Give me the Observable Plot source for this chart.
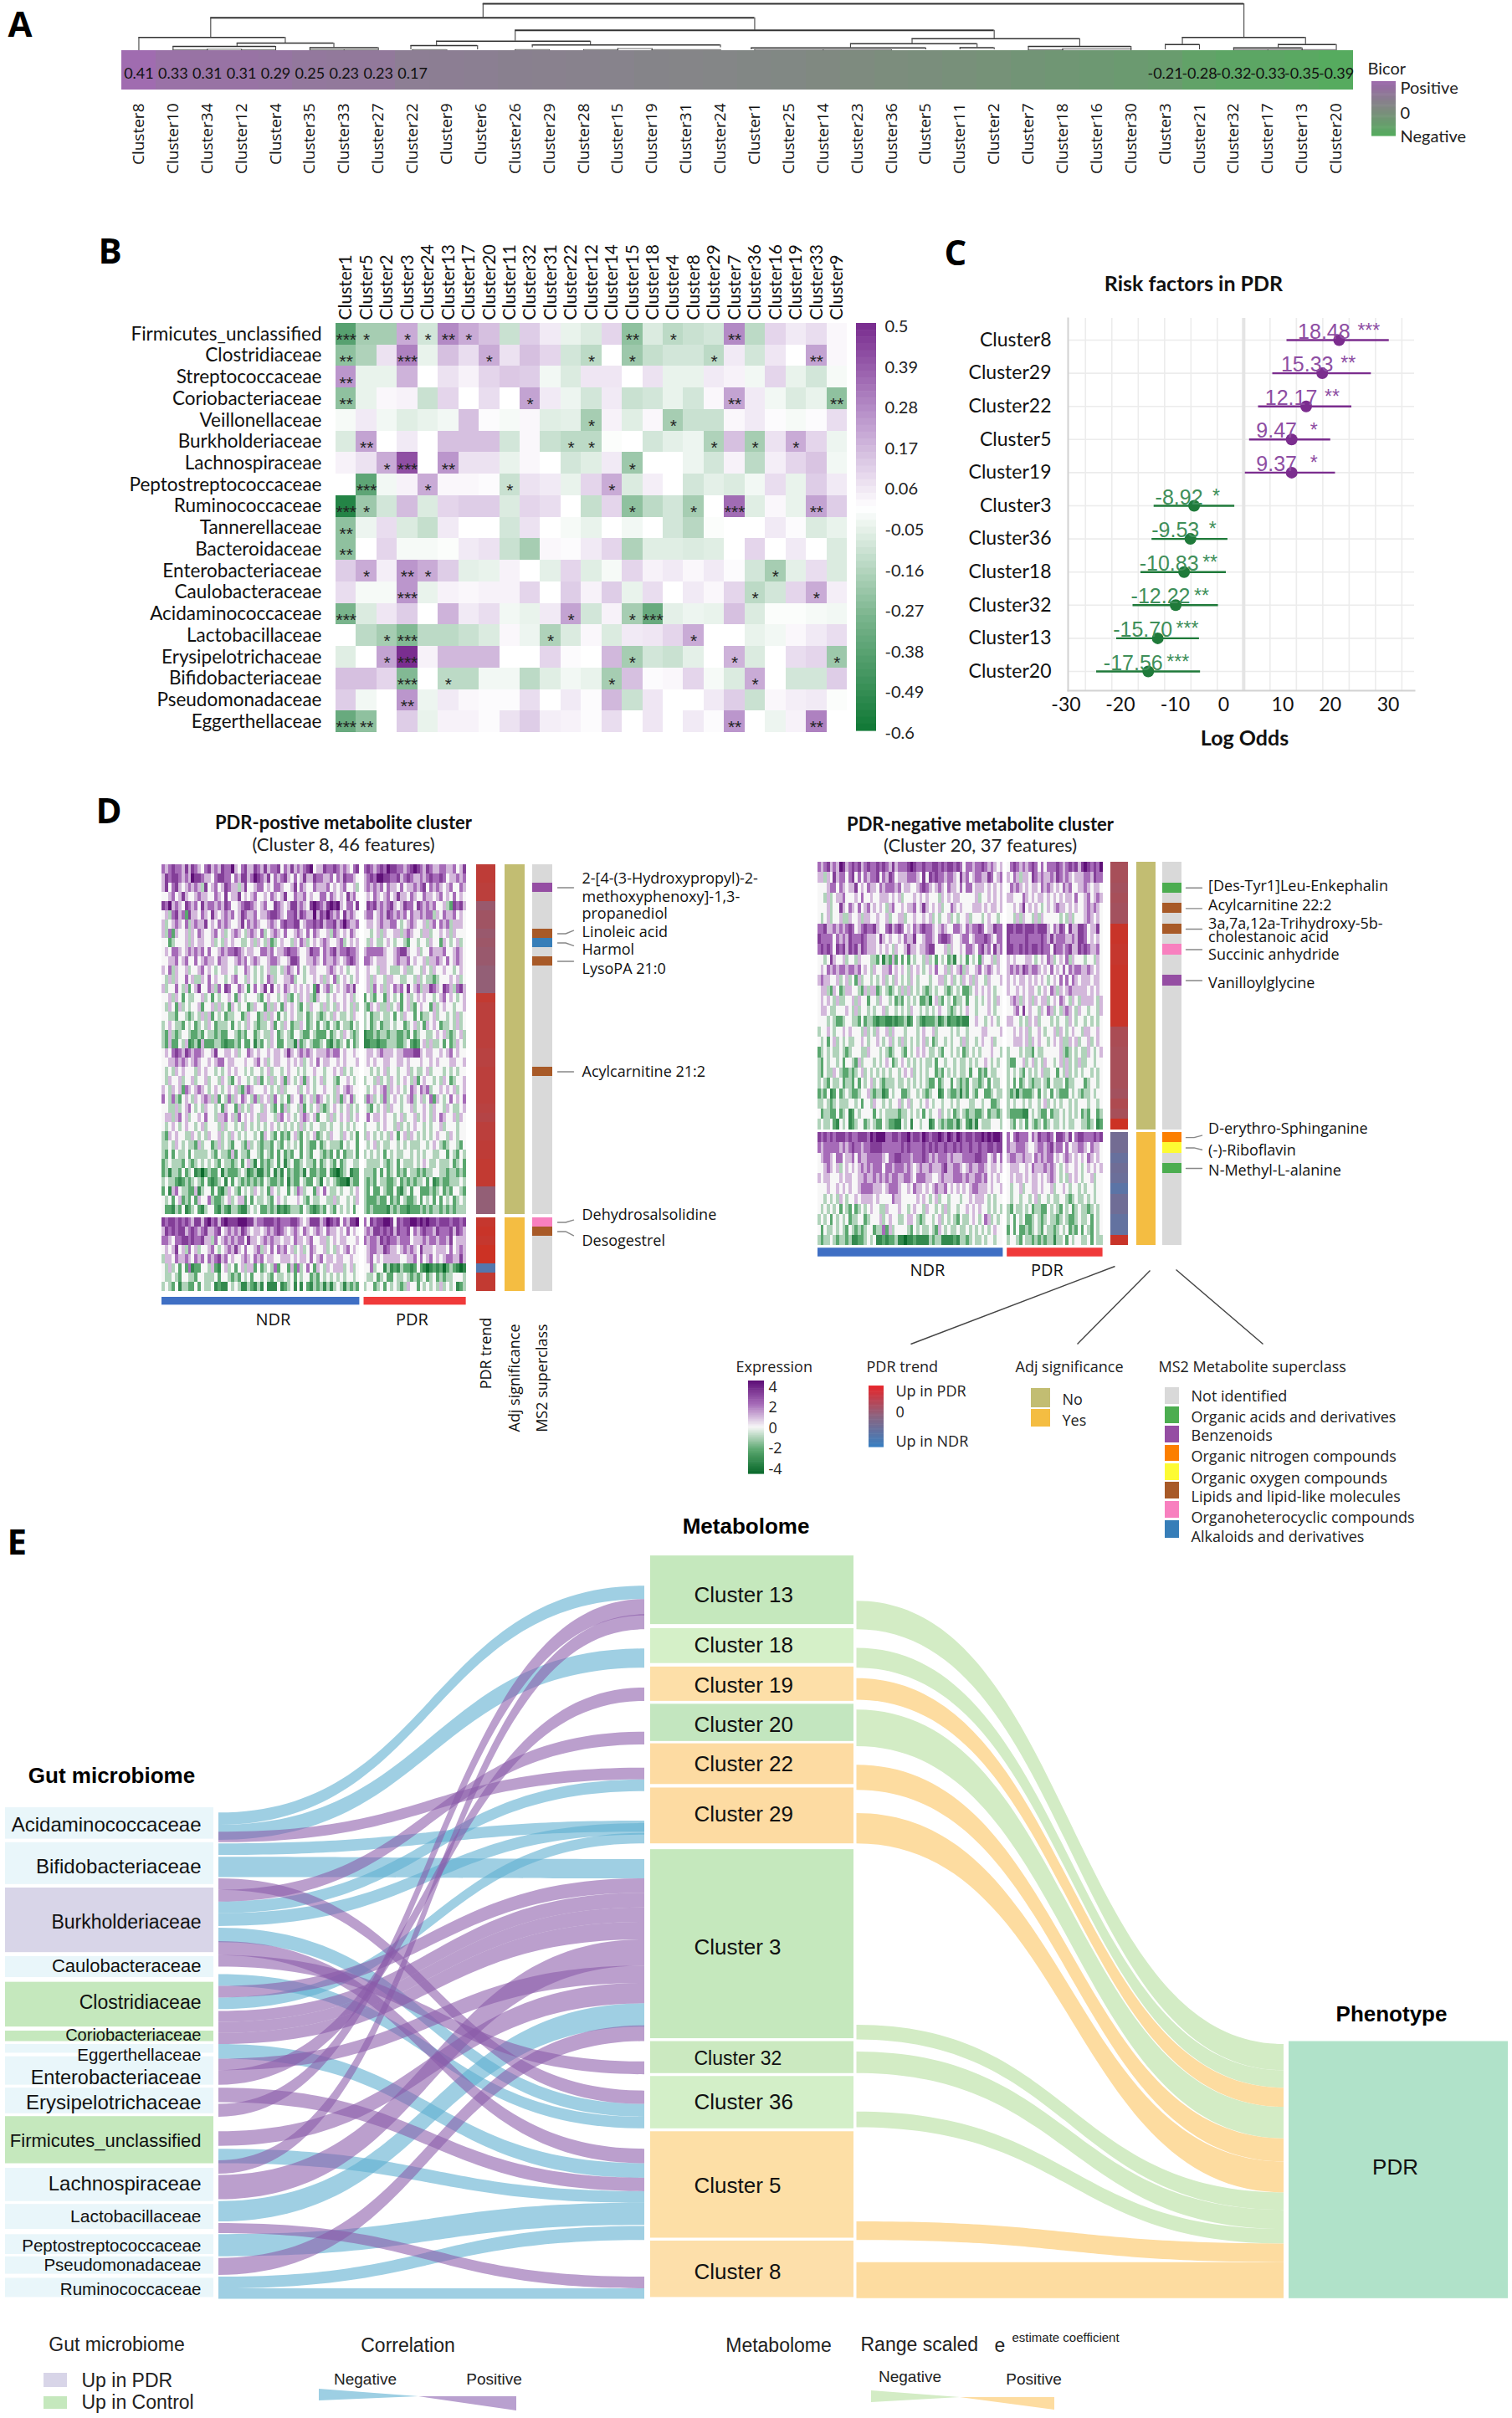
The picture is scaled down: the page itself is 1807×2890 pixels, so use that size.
<!DOCTYPE html>
<html><head><meta charset="utf-8">
<script src="https://cdn.jsdelivr.net/npm/d3@7"></script>
<script src="https://cdn.jsdelivr.net/npm/@observablehq/plot@0.6"></script>
<style>
html,body{margin:0;background:#fff}
#fig{position:relative;width:1807px;height:2890px;overflow:hidden;background:#fff}
#fig svg{position:absolute;overflow:visible;max-width:none}
</style></head><body><div id="fig"></div>
<script>
/* ---------- A: module / trait correlation ---------- */
const orderA=["Cluster8","Cluster10","Cluster34","Cluster12","Cluster4","Cluster35","Cluster33","Cluster27","Cluster22","Cluster9","Cluster6","Cluster26","Cluster29","Cluster28","Cluster15","Cluster19","Cluster31","Cluster24","Cluster1","Cluster25","Cluster14","Cluster23","Cluster36","Cluster5","Cluster11","Cluster2","Cluster7","Cluster18","Cluster16","Cluster30","Cluster3","Cluster21","Cluster32","Cluster17","Cluster13","Cluster20"];
const bicorA=[0.41,0.33,0.31,0.31,0.29,0.25,0.23,0.23,0.17,0.16,0.15,0.13,0.12,0.11,0.10,0.08,0.07,0.06,0.04,0.03,0.01,-0.01,-0.03,-0.05,-0.07,-0.09,-0.12,-0.14,-0.17,-0.19,-0.21,-0.28,-0.32,-0.33,-0.35,-0.39];
const bicorText=["0.41","0.33","0.31","0.31","0.29","0.25","0.23","0.23","0.17","","","","","","","","","","","","","","","","","","","","","","-0.21","-0.28","-0.32","-0.33","-0.35","-0.39"];
const dendroA=[[10.06,32.3,56,39.3,15.7],[2.1,18,39.3,15.7,24.3],[30.5,34.1,15.7,7.3,7.3],[0,4.28,15.7,0,9],[2.87,5.7,9,5,3.5],[1,4,5,1,1],[5,7,3.5,1,1],[11,25,24.3,11.3,14.3],[8.7,13.2,11.3,6,6.7],[7.95,9.9,6,1,1],[11.5,17,6.7,3.5,3.5],[22.6,27.5,14.3,8.3,5],[20.8,24.5,8.3,3.3,3.5],[17.9,23,3.3,1,1],[24,25,3.5,1,1],[26,29,5,1,1],[30,31,7.3,1,1],[33.3,35,7.3,3.3,1],[32,34,3.3,1,1],[1,2,1,0,0],[2,3,1.6,0,0],[3,4,1,0,0],[5,6,1,0,0],[6,7,1,0,0],[8,9,1,0,0],[11,12,1,0,0],[13,14,1,0,0],[14,15,2.4,0,0],[15,17,1,0,0],[18,20,1,0,0],[20,22,1,0,0],[26,27,1,0,0],[27,29,2,0,0],[32,33,1,0,0],[33,34,1,0,0],[34,35,1,0,0]];

/* ---------- B: heat map ---------- */
const colsB=["Cluster1","Cluster5","Cluster2","Cluster3","Cluster24","Cluster13","Cluster17","Cluster20","Cluster11","Cluster32","Cluster31","Cluster22","Cluster12","Cluster14","Cluster15","Cluster18","Cluster4","Cluster8","Cluster29","Cluster7","Cluster36","Cluster16","Cluster19","Cluster33","Cluster9"];
const rowsB=["Firmicutes_unclassified","Clostridiaceae","Streptococcaceae","Coriobacteriaceae","Veillonellaceae","Burkholderiaceae","Lachnospiraceae","Peptostreptococcaceae","Ruminococcaceae","Tannerellaceae","Bacteroidaceae","Enterobacteriaceae","Caulobacteraceae","Acidaminococcaceae","Lactobacillaceae","Erysipelotrichaceae","Bifidobacteriaceae","Pseudomonadaceae","Eggerthellaceae"];
const valsB=[
[-.4,-.2,-.2,.2,-.1,.28,.2,.15,-.12,.12,.05,-.05,-.08,.1,-.25,-.08,-.15,-.12,-.1,.28,-.15,.1,.05,.08,.02],
[-.25,-.18,.07,.3,-.05,.15,.08,.2,.07,.15,.1,-.1,-.15,0,-.22,-.13,-.1,-.1,-.15,.05,-.1,.06,0,.22,.02],
[.25,-.05,-.05,.18,0,.07,.03,.1,.13,.12,-.03,-.08,.06,.06,0,.07,-.05,-.05,.05,.03,-.03,.1,-.05,-.1,-.02],
[-.25,-.05,.02,.03,-.12,.1,0,.08,0,.22,.05,-.04,-.1,.05,-.12,-.1,-.05,-.1,.02,.22,.05,-.03,-.08,-.05,-.25],
[-.02,.05,-.03,-.07,-.05,-.03,.15,.01,-.02,.02,-.07,-.06,-.2,.03,-.07,.02,-.2,-.12,-.12,.02,.05,.01,-.02,.01,.08],
[-.08,.22,0,.05,0,.15,.15,.15,-.1,.02,-.12,-.15,-.15,-.01,0,-.1,-.06,-.04,-.18,.15,-.2,.07,.2,.1,-.04],
[.03,.07,.2,.42,0,.25,.07,.07,-.05,.02,0,-.1,-.07,.05,-.22,0,0,-.04,-.1,.03,-.15,.04,.1,.14,-.03],
[0,-.38,-.03,.03,.2,.02,.02,.01,-.12,.07,.05,-.05,.1,.2,-.08,.04,0,-.1,-.06,-.08,-.03,.08,-.05,.12,.05],
[-.55,-.22,-.1,.16,-.08,.1,.12,.12,-.08,.1,.08,0,-.13,.1,-.25,-.15,-.1,-.2,0,.35,-.07,.02,-.05,.22,.12],
[-.25,-.04,.08,-.08,-.13,.05,0,0,-.1,.07,0,-.02,-.05,0,-.03,0,-.1,-.16,-.01,0,0,.05,.01,-.08,-.05],
[-.25,0,.1,-.02,-.02,-.01,.05,.07,-.12,-.2,.02,.01,.05,.1,-.18,-.07,-.07,-.08,-.07,0,.1,0,.05,0,-.08],
[.12,.2,.04,.25,.2,.12,-.06,-.05,.03,0,-.06,.1,-.07,-.02,.1,.03,.05,.02,.05,.01,-.1,-.2,-.06,.08,-.08],
[.08,-.02,-.02,.25,-.05,.03,.02,.03,.03,.1,0,.12,.03,.12,-.05,.08,0,.05,.02,.1,-.15,-.1,.1,.2,.04],
[-.3,-.08,.06,.12,0,.18,.05,.08,-.03,-.05,.05,.22,-.1,.03,-.2,-.35,-.06,-.04,-.05,.15,-.08,-.01,-.01,-.02,-.03],
[0,-.15,-.2,-.28,-.15,-.15,-.12,-.08,.02,-.04,-.18,-.08,.02,-.08,.05,.06,.1,.2,0,0,-.05,-.03,.02,.05,.08],
[-.07,0,.22,.5,.03,.17,.17,.17,0,0,.1,.01,0,.17,-.2,-.1,-.12,-.06,0,.18,-.08,0,.08,.1,-.22],
[.15,.15,.1,-.28,0,-.15,-.15,-.03,-.03,-.15,-.07,-.03,-.05,-.2,.15,.01,.02,.1,-.02,-.08,.2,0,-.1,-.1,.12],
[.12,-.03,0,.25,-.04,.05,.02,.01,.01,.08,0,.05,.01,.17,-.12,.06,0,0,.05,.12,-.12,.02,.04,.05,-.01],
[-.35,-.25,0,.12,-.05,.03,.03,.01,.07,.12,.04,.03,.01,.08,0,.06,0,.05,.01,.25,0,-.04,.03,.3,0]];
const starsB=["3101121000000020100200000","2003000100001010001000020","2000000000000000000000000","2000000001000000000200002","0000000000001000100000000","0200000000011000001010100","0013020000000010000000000","0300100010000100000000000","3100000000000010010300020","2000000000000000000000000","2000000000000000000000000","0102100000000000000001000","0003000000000000000010010","3000000000010013000000000","0013000000100000010000000","0013000000000010000100001","0003010000000100000010000","0002000000000000000000000","3200000000000000000200020"];
const ticksB=["0.5","0.39","0.28","0.17","0.06","-0.05","-0.16","-0.27","-0.38","-0.49","-0.6"];

/* ---------- C: forest plot ---------- */
const rowsC=["Cluster8","Cluster29","Cluster22","Cluster5","Cluster19","Cluster3","Cluster36","Cluster18","Cluster32","Cluster13","Cluster20"];
const estC=[18.48,15.33,12.17,9.47,9.37,-8.92,-9.53,-10.83,-12.22,-15.70,-17.56];
const dotC=[18.1,14.9,11.85,9.1,9.1,-9.4,-10.1,-11.3,-12.9,-16.3,-18.1];
const loC=[8.2,5.5,2.8,1.1,0.3,-17,-17.4,-19.5,-21,-24.1,-27.9];
const hiC=[27.6,24.2,20.5,16.5,17.4,-1.7,-3,-3.3,-4.8,-8.4,-8.2];
const sigC=["***","**","**","*","*","*","*","**","**","***","***"];
const axisLabelsC=["-30","-20","-10","0","10","20","30"];
const axisLabelPosC=[-33.7,-23.4,-13,-3.8,7.4,16.4,27.4];
const gridC=[-30,-25,-20,-15,-10,-5,5,10,15,20,25,30];

/* ---------- D: expression heat maps (levels 0..8, 4 = zero; NDR|PDR) ---------- */
const heatL=[
"656766575765467565766854675576575667465756567845576676565467|6765676877665678765765566556457",
"576776565877655467766465775687657465675464575576655646576654|5676887766756765565676676455656",
"574675456565374564576553574456645466544574654465556454564453|5656564655464556567465654564465",
"445645754456554465474557454564454654574465564544664654547564|4546545645755465446554564546454",
"768565476564756656576445677654564476545775654787657878546647|4767565675457664765656445327675",
"453675627554654754565645765564556776546675765585768656475654|5664565765656465565663546556454",
"534565463565574546565445746565445654676677456676756675686556|4554565566434565445356465635554",
"536254453546544564534565435654634565464456546465445365454654|4434535445535654435534454535444",
"442344453545544534354544334535435234544354653454565445634545|4354334543443244344354425434534",
"454665456565646445656676545544665645567665445766465675667665|5666665445677544534465556445654",
"445564564464565546554456564565445665445776445565465565456765|6654555445655645445355654645654",
"546354453445645434554434465434345334356546434554445654543445|4544355433345334435435445443454",
"435354464533546454434564435434346534455634434454535463454345|4535443554433443534332344454534",
"534464352457446536476446542464574745465454545427456345456574|4536453546564745635576547653675",
"445354243344534243445425434443245443453243545325443454454534|2432442543424534545443456454345",
"435425343445244535342543442354425354254543243544353435454353|3254533534524532454425345443445",
"443324432343535243423344235442353542434543342343234354334354|3423343342435442423345344343534",
"345433243423435423334243435432334524354233542342432432433243|3423423343442345342545423343534",
"325323443223243323224432324423433542343244322432224234354323|1223233233223242344334545323453",
"325224351231522233212232422413243542243315234322342132342423|1122122333223421245353342423543",
"454676576566544574455453446545445455457545656545556566454454|4554565554556667754554454564544",
"445565654565445456645544454456453455445454534546455445454445|4545445544554544454454544455445",
"434354544435454434345454434344345344345443434454434454534344|4434345344344534334534443434344",
"435445344534453443543245443435243534525434525434534432445434|3443534354345435245443435423445",
"543545265456543454345453256544454343534445345434454435456544|4345456354543465465634454545345",
"643632454354565352436354654363545364342544634536543435254634|3653436345434563453462543464546",
"443353456434354434254425343544354324253443524345323454345343|4324345354434453445435443543345",
"455356453445464435564536454543554435645434565452443534545345|4645545443453445345435465445354",
"434543454434534443534434354343434543434343534344334344343434|3444345443534345443434453444344",
"325454433543435445343543434434254324232453243452343544354342|3543434354245354343434544354344",
"334354343325344235343244325343233243243434243224234333243442|4345343344343433344345432344324",
"324243342433334324332524332443243242423244243244323242423342|3434342434334434343443344243243",
"234333243234343432433234245314232342413422343324234324234433|4333343234243334345433433342342",
"231332423412023224132223431231132413142322314223224210234122|3332424234232433232334433233232",
"343321232343242123414243232323243223241322432243143432110322|3232433223423232334241232233343",
"241564332251344242135432434354342543442436534425464334344345|3242243224213424422232342324432",
"434245232425446322345345524243343245434445432433443353443435|3222322423243223424342424342343",
"422132412342134421321332113434223231212333243212324324343424|3232222132322122232323323232333",
"767767676577578675787778887756677767666776545777568767465778|6476778874767788787877677767767",
"576767756765675567456565765455456567654565465456546554546454|5657767675766746567665766675765",
"665466776766755364565656647554565655455465545644553454554445|6566576766566645556566566574555",
"454574536453445643456575464456354646564534534654453435456454|4566557655456565475554555464565",
"355465565465646567564544565465645544555454554645645545544544|4564545555544556464564545665575",
"435342426122443521453424535524234362442526346425435455534534|4463441312132212421012120232101",
"433432443324433342443232434244343243343424344232434343434434|4334234224334323234234232334443",
"343241332242433412114343113213141114123414142132313134313232|3442342434323544243434353434123"];
const heatR=[
"656756587567675676676765756667876676677676776764665667656545|4676565676464666765676757876768",
"553547566467464656674657645556665474767665665475645665576456|5465355476565565765654555665766",
"444566465455745465546566656455445676545654655464664555454545|4656545455465654546564455654554",
"443534556444546445445554545344454545444354545544444534454545|5544465454554545454554644564565",
"444534475465464564545435644545564575454534465454445554545545|4454574545434545655454544565654",
"434534453354453554454453445534454454534344534344534443454434|4435354435354444434353444565454",
"667556565676456766754467567645465676654565446654656676455766|7767767776777546576475577645574",
"766664656576667655547545445465574456654677654456645666765466|7666667666676575666556577645454",
"676764767576757655545454354457554556774445354454665467564756|7766767677676647665675576765564",
"443475445344354443324132524242434435342434231434243425445354|5454445543454653454635444344354",
"454656566566564543544556454543545434546445354563544564565454|5656576566545464546465665565454",
"565544534534253443434534354343543444344553453435453544354445|5454554545454345464646545554554",
"455325423554432535523432343535343432343443234342234545454344|5445454554345465354565555545454",
"454543533445354424435443423243434223145324342334244343454354|4565354535455345465435435555435",
"455433444543534434344534434343544343434544323434544344454344|4456474544354653435654354434435",
"444343223443324233212211212231243212223123122121144544345434|5544343545344434344354344343434",
"344543445454443534354453544434443454453444434344344445544445|4454545344543445354345443554454",
"434245343433445434454345343534343453423443434435344345445344|4455545354544345453354534453454",
"234343343234443354443432344324345454334324434342343434445443|3444343324334444453234343354345",
"324344342443253444343454234543434343342443443433434344543434|3224453453435443453534353344344",
"324335432232345343434343443454534343442324343433424423243344|3434324343453344243534343443434",
"343243342332424345343233343343434343224234424323243323424334|3424234323343243334233444234434",
"232412423432234453233124344223443432344124322313243244223433|3231322234243424322243432334344",
"334323433344342443544343445345344345434434434344433443442234|3434434344345343434434344434434",
"423322423412434444243433332334343424344534342343233223423323|3222211434322423343434342324423",
"343342143412344234322432211434144344124323223134213143334443|4324342432342343343433443323412",
"767676777676677768788866776778677687677876876876776778787887|6467666465766764776574677666767",
"656666656567665667777666666767666676767667667676676676677677|6556665445665675664645566546554",
"456654664556465566666546677666566676565666565556666776645646|5665565546565664545654545465454",
"445654534545456565666466566656545655655567556654565566545545|4555445465556565434544543454545",
"545544454554455655656565665566546665544565556665655665645454|4545545455454565434354543445344",
"444544545454456666555456665445465545456556454545456655545445|4344534455454453445434434344344",
"443434354344545555454444655444445454345344344434454555434344|4344344345344343344323433434344",
"434343424324234345443354445443454435443435344344545454434343|3243343423322434324342343323434",
"343424343423344234445345443345543234434534343243345434653434|3424342234323433234322343342434",
"424334343243232344233625344443243433432543433433434343434544|2424223234324332343423242432434",
"323343233231122343411212231101121111323311112133234334344344|3443243323232331334243443342433"];
const levelValues=[-4,-3,-2,-.9,0,.9,2,3,4];
const trendL=[.75,.75,.7,.7,.2,.3,.3,.2,.25,.2,.2,.1,.1,.1,.8,.7,.7,.7,.7,.7,.65,.65,.7,.7,.7,.7,.65,.6,.7,.7,.75,.75,.8,.8,.8,.1,.1,.1,.85,.9,.85,.95,.95,-.7,.8,.8];
const trendR=[.4,.4,.35,.4,.35,.35,.9,.9,.85,.85,.9,.9,.9,.9,.9,.9,.45,.45,.4,.4,.4,.4,.35,.5,.4,.95,-.3,-.3,-.45,-.35,-.4,-.6,-.35,-.35,-.5,-.5,.9];
const ms2L=[[2,"Benzenoids"],[7,"Lipids"],[8,"Alkaloids"],[10,"Lipids"],[22,"Lipids"],[38,"Organoheterocyclic"],[39,"Lipids"]];
const ms2R=[[2,"Acids"],[4,"Lipids"],[6,"Lipids"],[8,"Organoheterocyclic"],[11,"Benzenoids"],[26,"Nitrogen"],[27,"Oxygen"],[29,"Acids"]];
const ms2Colors={Acids:"#4cad50",Benzenoids:"#954ea3",Nitrogen:"#fc7f00",Oxygen:"#fdfb33",Lipids:"#a85a28",Organoheterocyclic:"#f880bf",Alkaloids:"#377eb8"};
const notesL=[[2,2.5],[7,7.15],[8,8.8],[10,10.5],[22,22.5],[38,38.6],[39,40.3]];
const notesR=[[2,2.5],[4,4.5],[6,6.5],[8,8.5],[11,11.5],[26,26.55],[27,27.95],[29,29.76]];
const labelsL=[["2-[4-(3-Hydroxypropyl)-2-",1.5],["methoxyphenoxy]-1,3-",3.5],["propanediol",5.3],["Linoleic acid",7.36],["Harmol",9.27],["LysoPA 21:0",11.36],["Acylcarnitine 21:2",22.5],["Dehydrosalsolidine",38.1],["Desogestrel",40.9]];
const labelsR=[["[Des-Tyr1]Leu-Enkephalin",2.3],["Acylcarnitine 22:2",4.2],["3a,7a,12a-Trihydroxy-5b-",6],["cholestanoic acid",7.3],["Succinic anhydride",9.03],["Vanilloylglycine",11.8],["D-erythro-Sphinganine",25.9],["(-)-Riboflavin",28],["N-Methyl-L-alanine",30]];

/* ---------- E: sankey ---------- */
const microbes=[["Acidaminococcaceae",518,572,"#e9f6fa",548,24],["Bifidobacteriaceae",578,650,"#e9f6fa",620,24],["Burkholderiaceae",656,767,"#d8d5e8",715,23],["Caulobacteraceae",774,810,"#e9f6fa",790,22],["Clostridiaceae",818,895,"#c5e8bd",853,23],["Coriobacteriaceae",902,920,"#c5e8bd",910,20],["Eggerthellaceae",925,940,"#e9f6fa",943,20.5],["Enterobacteriaceae",946,995,"#e9f6fa",982,23.5],["Erysipelotrichaceae",1000,1044,"#e9f6fa",1025,24],["Firmicutes_unclassified",1049,1130,"#c5e8bd",1091,22],["Lachnospiraceae",1138,1195,"#e9f6fa",1165,24],["Lactobacillaceae",1200,1243,"#e9f6fa",1221,21],["Peptostreptococcaceae",1252,1286,"#e9f6fa",1272,20.5],["Pseudomonadaceae",1290,1320,"#e9f6fa",1305,20.5],["Ruminococcaceae",1327,1360,"#e9f6fa",1346,20.5]];
const metabolites=[["Cluster 13",85,203,"#c5e8bd",153,26],["Cluster 18",210,270,"#d5f0c8",239,26],["Cluster 19",276,335,"#fddfa8",308,26],["Cluster 20",340,404,"#c3e6bf",375,26],["Cluster 22",408,478,"#fddba2",444,26],["Cluster 29",484,580,"#fddba2",530,26],["Cluster 3",590,915,"#c5e8bd",758,26],["Cluster 32",920,975,"#cbe9c0",950,23],["Cluster 36",980,1070,"#d3efc8",1025,26],["Cluster 5",1075,1258,"#fddfa6",1168,26],["Cluster 8",1263,1360,"#fddfaa",1316,26]];
const phenotype=[["PDR",920,1362,"#b0e2c9",1137,26]];
const gutLinks=[
["Acid","C13",527,548,137,160,-1],["Acid","C18",548,574,245,278,-1],["Acid","C22",560,578,450,470,1],
["Bifido","C29",580,600,541,560,-1],["Bifido","C3",603,638,607,640,-1],
["Burk","C36",640,660,1005,1028,1],["Burk","C20",660,680,388,410,1],["Burk","C22",680,700,470,490,-1],["Burk","C29",700,722,545,565,-1],["Burk","C36",725,750,1028,1050,-1],["Burk","C5",748,772,1105,1130,1],
["Caulo","C32",772,792,955,977,1],["Caulo","C36",805,825,1050,1070,-1],
["Clost","C3",825,845,640,665,1],["Clost","C29",845,865,562,580,-1],["Clost","C3",868,887,665,690,1],["Clost","C3",887,906,690,715,1],["Corio","C3",906,925,715,745,1],
["Egg","C5",925,950,1130,1155,-1],["Entero","C3",950,970,790,820,1],["Entero","C19",970,995,312,335,1],["Erysip","C5",1000,1025,1155,1178,1],["Erysip","C13",1028,1050,160,188,1],
["Firm","C3",1075,1100,820,855,1],["Firm","C5",1105,1130,1178,1198,-1],["Firm","C13",1125,1148,186,212,1],
["Lachno","C3",1150,1192,745,790,1],["Lacto","C3",1195,1230,855,895,-1],["Lacto","C8",1233,1250,1325,1345,1],
["Pepto","C5",1252,1290,1198,1236,-1],["Pseudo","C3",1293,1322,893,920,1],["Rumino","C5",1325,1345,1238,1262,-1],["Rumino","C8",1345,1363,1345,1363,-1]];
const pdrLinks=[["C13",163,212,925,970,-1],["C18",244,278,970,1000,-1],["C19",296,333,1000,1033,1],["C20",350,413,1033,1087,-1],["C22",445,488,1087,1127,1],["C29",528,580,1127,1180,1],["C32",892,917,1180,1210,-1],["C36",938,975,1210,1243,-1],["C36b",1041,1068,1243,1268,-1],["C5",1230,1262,1268,1300,1],["C8",1300,1362,1300,1362,1]];

/* ---------- layout ---------- */
const fig=document.getElementById("fig");
const base={background:"transparent",fontFamily:"Lato, sans-serif",color:"#111"};
function put(left,top,opts){
  const s=Plot.plot({margin:0,...opts,style:base});
  s.style.left=left+"px";s.style.top=top+"px";fig.append(s);
}
/* A */
const stripRows=orderA.map((c,i)=>({c,b:bicorA[i],t:bicorText[i]}));
put(144.5,0,{width:1472,height:60,x:{domain:[-.5,35.5],axis:null},y:{domain:[0,60],axis:null},marks:[
  Plot.ruleY(dendroA,{y:d=>d[2],x1:d=>d[0],x2:d=>d[1],stroke:d=>d[2]<2.5?"#888":"#333",strokeWidth:d=>d[2]>20?2:1.4}),
  Plot.ruleX(dendroA,{x:d=>d[0],y1:d=>d[3],y2:d=>d[2],stroke:"#444",strokeWidth:1.1}),
  Plot.ruleX(dendroA,{x:d=>d[1],y1:d=>d[4],y2:d=>d[2],stroke:"#444",strokeWidth:1.1})]});
put(144.5,60,{width:1472,height:155,marginBottom:108,
  x:{domain:orderA,padding:0,round:false},y:{domain:[0,1],axis:null},
  color:{type:"linear",domain:[-.39,0,.41],range:["#56ab5f","#7f8a80","#a06cb0"]},
  marks:[Plot.barY(stripRows,{x:"c",y:()=>1,fill:"b",shapeRendering:"crispEdges"}),
  Plot.text(stripRows,{x:"c",y:()=>.42,text:"t",fill:"#111",fontSize:18}),
  Plot.axisX({anchor:"bottom",tickSize:0,tickRotate:-90,tickPadding:16,label:null,fontSize:19,fontFamily:"Open Sans"})]});
/* B */
const bCells=rowsB.flatMap((r,i)=>colsB.map((c,j)=>({r,c,v:valsB[i][j],s:"*".repeat(+starsB[i][j])})));
const bColor={type:"linear",domain:[-.6,-.3,0,.25,.5],range:["#137a38","#79b48c","#ffffff","#bb96cc","#7a2e90"]};
put(100,270,{width:912,height:605,marginLeft:301,marginTop:116,
  x:{domain:colsB,padding:0,round:false},y:{domain:rowsB,padding:0,round:false},color:bColor,
  marks:[Plot.cell(bCells,{x:"c",y:"r",fill:"v",shapeRendering:"crispEdges"}),
  Plot.text(bCells.filter(d=>d.s),{x:"c",y:"r",text:"s",dy:7,fontSize:21,fill:"#222",fontFamily:"Liberation Sans"}),
  Plot.axisX({anchor:"top",tickSize:0,tickRotate:-90,tickPadding:4,label:null,fontSize:21}),
  Plot.axisY({anchor:"left",tickSize:0,tickPadding:17,label:null,fontSize:22.5})]});
/* C */
const cRows=rowsC.map((c,i)=>({c,e:estC[i],d:dotC[i],lo:loC[i],hi:hiC[i],s:sigC[i],col:estC[i]>0?"#7b2d8e":"#1f7a3a",txt:estC[i]>0?"#8e4ea3":"#3f8f5a"}));
const pos=cRows.filter(d=>d.e>0),neg=cRows.filter(d=>d.e<0);
const cRange=rows=>[
  Plot.ruleY(rows,{y:"c",x1:"lo",x2:"hi",stroke:rows[0].col,strokeWidth:2.4}),
  Plot.dot(rows,{x:"d",y:"c",r:7,fill:rows[0].col}),
  Plot.text(rows,{x:"d",y:"c",text:d=>d.e.toFixed(2),dx:-18,dy:-10,fontSize:25,fill:rows[0].txt,fontFamily:"Liberation Sans"}),
  Plot.text(rows,{x:"d",y:"c",text:"s",textAnchor:"start",dx:22,dy:-11,fontSize:23,fill:rows[0].txt,fontFamily:"Liberation Sans"})];
put(1100,380,{width:590,height:515,marginLeft:176,marginBottom:70,
  x:{domain:[-33.3,32.4],axis:null},y:{type:"point",domain:rowsC,range:[26,422],padding:0,round:false,axis:null},
  marks:[Plot.ruleX(gridC,{stroke:"#ececec",strokeWidth:1.6}),
  Plot.ruleY(rowsC,{stroke:"#ececec",strokeWidth:1.6}),
  Plot.ruleX([0],{stroke:"#e4e4e4",strokeWidth:4}),
  Plot.frame({anchor:"left",stroke:"#d2d2d2",strokeWidth:2}),Plot.frame({anchor:"bottom",stroke:"#d2d2d2",strokeWidth:2}),
  Plot.axisY({anchor:"left",tickSize:0,tickPadding:20,label:null,fontSize:23}),
  ...cRange(pos),...cRange(neg),
  Plot.text(axisLabelsC,{x:(d,i)=>axisLabelPosC[i],frameAnchor:"bottom",dy:24,fontSize:23})]});
/* D */
const NDR_COLS=60,PDR_START=61.3;
function heatmap(cfg,rows,trend,ms2,notes,labels){
  const {left,top,rowPx,colPx,split,gap,tracks,labelPx,notePx,barRow,textRow,textPx,trackRows:tl,totalRows,widthPx}=cfg;
  const yOf=r=>r<split?r:r+gap;
  const cells=rows.flatMap((s,r)=>{const [a,b]=s.split("|");
    return [...a].slice(0,NDR_COLS).map((ch,c)=>({x:c,r,v:levelValues[+ch]})).concat([...b].slice(0,31).map((ch,c)=>({x:PDR_START+c,r,v:levelValues[+ch]})));});
  const trendColor=d3.scaleLinear([-1,0,1],["#3a7fc0","#8c6480","#cf2f1f"]);
  const tr=tracks.map(p=>p/colPx);
  const strip=(x1,x2,fillOf)=>trend.map((t,r)=>({r,x1,x2,fill:fillOf(t,r)}));
  const trackCells=[...strip(tr[0],tr[1],t=>trendColor(t)),
    ...strip(tr[2],tr[3],(t,r)=>r<split?"#c2bd72":"#f4bd42"),
    ...strip(tr[4],tr[5],(t,r)=>{const m=ms2.find(k=>k[0]===r);return m?ms2Colors[m[1]]:"#d9d9d9"})];
  const nx=notePx.map(p=>p/colPx);
  const noteLines=notes.flatMap(([r,end],i)=>{const y=yOf(r)+.5;return [{i,x:nx[0],y},{i,x:(nx[0]+nx[1])/2,y},{i,x:nx[1],y:end}]});
  const tracksText=tl?[["PDR trend",tl[0],(tr[0]+tr[1])/2],["Adj significance",tl[1],(tr[2]+tr[3])/2],["MS2 superclass",tl[1],(tr[4]+tr[5])/2]]:[];
  put(left,top,{width:widthPx,height:totalRows*rowPx,
    x:{domain:[0,widthPx/colPx],axis:null},y:{domain:[0,totalRows],axis:null,reverse:true},
    color:{type:"linear",domain:[-4,-2,0,2,4],range:["#0b6a2c","#5aa76f","#f7f7f7","#a66bb8","#5f1078"]},
    marks:[Plot.rect(cells,{x1:"x",x2:d=>d.x+1,y1:d=>yOf(d.r),y2:d=>yOf(d.r)+1,fill:"v",shapeRendering:"crispEdges"}),
    ...d3.groups(trackCells,d=>d.fill).map(([f,g])=>Plot.rect(g,{x1:"x1",x2:"x2",y1:d=>yOf(d.r),y2:d=>yOf(d.r)+1,fill:f,shapeRendering:"crispEdges"})),
    Plot.rect([0],{x1:()=>0,x2:()=>NDR_COLS,y1:()=>barRow,y2:()=>barRow+.85,fill:"#3f6fc4"}),
    Plot.rect([0],{x1:()=>PDR_START,x2:()=>PDR_START+31,y1:()=>barRow,y2:()=>barRow+.85,fill:"#f03a3a"}),
    Plot.text(["NDR"],{x:()=>textPx[0]/colPx,y:()=>textRow,fontSize:20,fontFamily:"Open Sans"}),
    Plot.text(["PDR"],{x:()=>textPx[1]/colPx,y:()=>textRow,fontSize:20,fontFamily:"Open Sans"}),
    Plot.line(noteLines,{x:"x",y:"y",z:"i",stroke:"#888",strokeWidth:1.4}),
    Plot.text(labels,{x:()=>labelPx/colPx,y:d=>d[1],text:d=>d[0],textAnchor:"start",fontSize:18,fontFamily:"Open Sans"}),
    Plot.text(tracksText,{x:d=>d[2],y:d=>d[1],text:d=>d[0],rotate:-90,textAnchor:"end",fontSize:18,fontFamily:"Open Sans"})]});
}
heatmap({left:193,top:1033,rowPx:11,colPx:3.94,split:38,gap:.36,tracks:[376,399,410,434,443,467],labelPx:502,notePx:[473,492],barRow:47,textRow:49.5,textPx:[133,299],trackRows:[49.2,49.9],totalRows:62,widthPx:760},heatL,trendL,ms2L,notesL,labelsL);
heatmap({left:977,top:1030,rowPx:12.3,colPx:3.69,split:26,gap:.26,tracks:[350,371,381,404,412,435],labelPx:466.6,notePx:[440,459],barRow:37.5,textRow:39.7,textPx:[131,274],trackRows:null,totalRows:42,widthPx:780},heatR,trendR,ms2R,notesR,labelsR);
/* E */
const U=p=>(p-261)/509;
const fl=(rows,x0,x1,f)=>rows.filter(f).flatMap(d=>{const o=rows.indexOf(d);const a=d.length===7?2:1;return [{id:o,x:x0,y1:d[a],y2:d[a+1]},{id:o,x:x1,y1:d[a+2],y2:d[a+3]}]});
const ribbon=(rows,f,x0,x1,fill,op)=>Plot.area(fl(rows,x0,x1,f),{x1:"x",y1:"y1",y2:"y2",z:"id",curve:"bump-x",fill,fillOpacity:op});
const nodes=(rows,x1,x2)=>rows.map(d=>({n:d[0],y1:d[1],y2:d[2],f:d[3],ly:d[4],size:d[5],x1,x2}));
const nL=nodes(microbes,U(6),U(255)),nM=nodes(metabolites,U(777),U(1020)),nR=nodes(phenotype,U(1540),U(1802));
const titlesE=[["Gut microbiome",U(133),463],["Metabolome",U(891),35],["Phenotype",U(1662.5),873]];
put(0,1800,{width:1807,height:1090,x:{domain:[-261/509,(1807-261)/509],axis:null},y:{domain:[0,1568],axis:null,reverse:true},
  marks:[
  Plot.rect([...nL,...nM,...nR],{x1:"x1",x2:"x2",y1:"y1",y2:"y2",fill:"f"}),
  ribbon(gutLinks,d=>d[6]<0,0,1,"#5fafd0",.6),
  ribbon(gutLinks,d=>d[6]>0,0,1,"#8a5aa8",.58),
  ribbon(pdrLinks,d=>d[5]<0,U(1023.5),U(1534),"#d3ecc5",1),
  ribbon(pdrLinks,d=>d[5]>0,U(1023.5),U(1534),"#fddca0",1),
  Plot.text(nL,{x:()=>U(240),y:"ly",text:"n",textAnchor:"end",fontSize:"size",fontFamily:"Liberation Sans",fill:"#111"}),
  Plot.text(nM,{x:()=>U(829),y:"ly",text:"n",textAnchor:"start",fontSize:"size",fontFamily:"Liberation Sans",fill:"#111"}),
  Plot.text(nR,{x:()=>U(1667),y:"ly",text:"n",fontSize:"size",fontFamily:"Liberation Sans",fill:"#111"}),
  Plot.text(titlesE,{x:d=>d[1],y:d=>d[2],text:d=>d[0],fontSize:26,fontWeight:700,fontFamily:"Liberation Sans",fill:"#000"})]});
/* Furniture */
const letters=[["A",9,30],["B",117,301],["C",1128,303],["D",114,970],["E",8,1844]];
const ramp=(x1,x2,y1,y2,scale,dom)=>d3.range(60).map(i=>({x1,x2,y1:y1+(y2-y1)*i/60,y2:y1+(y2-y1)*(i+1)/60+.6,c:scale(dom[0]+(dom[1]-dom[0])*i/59)}));
const rampA=ramp(1639,1668,97,162,d3.scaleLinear([.41,0,-.39],["#9b68aa","#7f8a80","#56ab5f"]),[.41,-.39]);
const rampB=ramp(1023,1047,386,873,d3.scaleLinear(bColor.domain,bColor.range),[.5,-.6]);
const rampExpr=ramp(894,913,1650,1761,d3.scaleLinear([4,2,0,-2,-4],["#5f1078","#a66bb8","#f7f7f7","#5aa76f","#0b6a2c"]),[4,-4]);
const rampTrend=ramp(1038,1056,1656,1729,d3.scaleLinear([1,0,-1],["#e6252a","#8c6480","#3a7fc0"]),[1,-1]);
const swatches=[[1232,1255,1659,1682,"#c2bd72"],[1232,1255,1684,1705,"#f4bd42"],
 [1392,1409,1658,1678,"#d9d9d9"],[1392,1409,1681,1701,ms2Colors.Acids],[1392,1409,1704,1724,ms2Colors.Benzenoids],[1392,1409,1727,1746,ms2Colors.Nitrogen],[1392,1409,1749,1769,ms2Colors.Oxygen],[1392,1409,1771,1791,ms2Colors.Lipids],[1392,1409,1794,1814,ms2Colors.Organoheterocyclic],[1392,1409,1817,1838,ms2Colors.Alkaloids],
 [52,80,2836,2853,"#d8d5e8"],[52,80,2864,2879,"#c5e8bd"]];
const wedges=[[1,[381,2855,2869],[500,2864,2864],"#9dcfe3"],[2,[500,2864,2864],[617,2864,2881],"#b9a0cf"],[3,[1041,2857,2871],[1147,2865,2865],"#d3ecc5"],[4,[1147,2865,2865],[1260,2865,2880],"#fddca0"]];
const wedgeRows=wedges.flatMap(([id,a,b,c])=>[{id,x:a[0],y1:a[1],y2:a[2],c},{id,x:b[0],y1:b[1],y2:b[2],c}]);
const leaders=[[1332,1513,1088,1606],[1374,1518,1287,1606],[1405,1517,1509,1606]];
const lato=[["Bicor",1634,82],["Positive",1673,105],["0",1673,135],["Negative",1673,163],
 ...ticksB.map((t,i)=>[t,1057,390+i*48.6])];
const openLeft=[["Expression",879,1634],["4",918,1658],["2",918,1682],["0",918,1707],["-2",918,1731],["-4",918,1756],
 ["PDR trend",1035,1634],["Up in PDR",1070,1663],["0",1070,1688],["Up in NDR",1070,1723],
 ["Adj significance",1213,1634],["No",1269,1673],["Yes",1269,1698],
 ["MS2 Metabolite superclass",1384,1634],["Not identified",1423,1669],["Organic acids and derivatives",1423,1693.5],["Benzenoids",1423,1716],["Organic nitrogen compounds",1423,1741],["Organic oxygen compounds",1423,1767],["Lipids and lipid-like molecules",1423,1789],["Organoheterocyclic compounds",1423,1814],["Alkaloids and derivatives",1423,1837]];
const heads=[["PDR-postive metabolite cluster",410,983],["PDR-negative metabolite cluster",1171,985]];
const subs=[["(Cluster 8, 46 features)",410,1009],["(Cluster 20, 37 features)",1171,1010]];
const legE=[["Gut microbiome",139,2802,"middle",23],["Up in PDR",97,2845,"start",23],["Up in Control",97,2871,"start",23],["Correlation",487,2803,"middle",23],["Metabolome",930,2803,"middle",23],["Range scaled",1028,2802,"start",23],["e",1188,2803,"start",23],["estimate coefficient",1209,2794,"start",15],["Negative",436,2843,"middle",19],["Positive",590,2843,"middle",19],["Negative",1087,2840,"middle",19],["Positive",1235,2843,"middle",19]];
put(0,0,{width:1807,height:2890,x:{domain:[0,1807],axis:null},y:{domain:[0,2890],axis:null,reverse:true},marks:[
  Plot.text(letters,{x:d=>d[1],y:d=>d[2],text:d=>d[0],textAnchor:"start",fontSize:42,fontWeight:700,fontFamily:"Open Sans",fill:"#000"}),
  Plot.rect([...rampA,...rampB,...rampExpr,...rampTrend],{x1:"x1",x2:"x2",y1:"y1",y2:"y2",fill:"c"}),
  Plot.rect(swatches,{x1:d=>d[0],x2:d=>d[1],y1:d=>d[2],y2:d=>d[3],fill:d=>d[4]}),
  Plot.area(wedgeRows,{x1:"x",y1:"y1",y2:"y2",z:"id",fill:"c"}),
  Plot.link(leaders,{x1:d=>d[0],y1:d=>d[1],x2:d=>d[2],y2:d=>d[3],stroke:"#444",strokeWidth:1.4}),
  Plot.text(lato,{x:d=>d[1],y:d=>d[2],text:d=>d[0],textAnchor:"start",fontSize:20,fill:"#222"}),
  Plot.text(openLeft,{x:d=>d[1],y:d=>d[2],text:d=>d[0],textAnchor:"start",fontSize:18,fontFamily:"Open Sans",fill:"#222"}),
  Plot.text(heads,{x:d=>d[1],y:d=>d[2],text:d=>d[0],fontSize:22,fontWeight:700,fill:"#111"}),
  Plot.text(subs,{x:d=>d[1],y:d=>d[2],text:d=>d[0],fontSize:22,fill:"#222"}),
  Plot.text(["Risk factors in PDR"],{x:()=>1426,y:()=>339,fontSize:25,fontWeight:700,fill:"#111"}),
  Plot.text(["Log Odds"],{x:()=>1487,y:()=>882,fontSize:25,fontWeight:700,fill:"#111"}),
  ...legE.map(d=>Plot.text([d],{x:e=>e[1],y:e=>e[2],text:e=>e[0],textAnchor:d[3],fontSize:d[4],fontFamily:"Liberation Sans",fill:"#222"}))]});
</script></body></html>
